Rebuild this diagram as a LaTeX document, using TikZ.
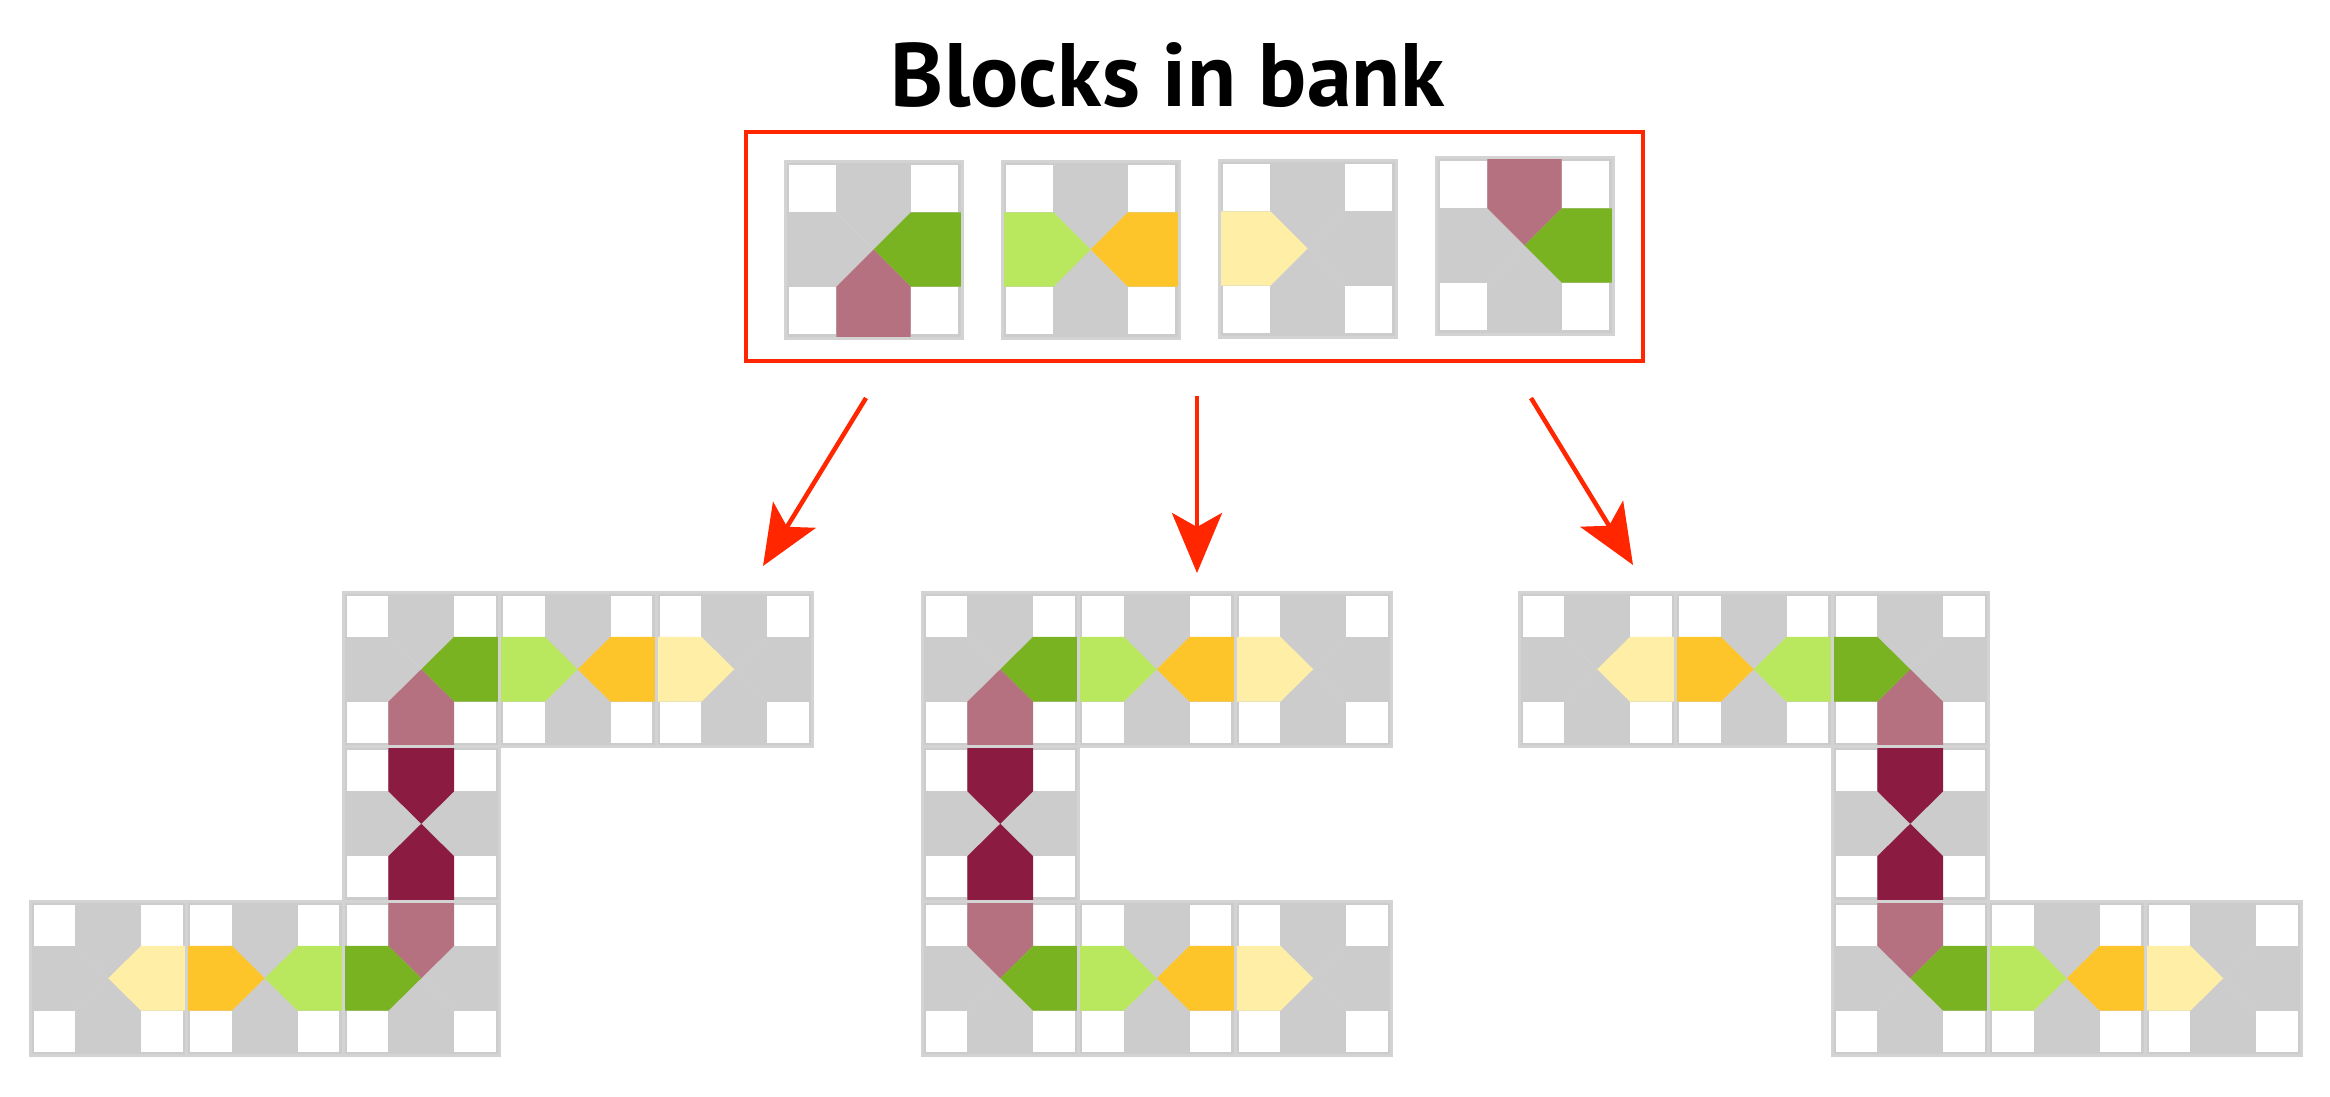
\documentclass[tikz,border=0pt]{standalone}
\usepackage{fontspec}
\setmainfont{PT Sans}
\usepackage{tikz}
\usetikzlibrary{arrows.meta}

\definecolor{gris}{HTML}{CCCCCC}
\definecolor{borde}{HTML}{D3D3D3}
\definecolor{linea}{HTML}{D0D0D0}
\definecolor{verde}{HTML}{7AB322}
\definecolor{verdeclaro}{HTML}{B9E85E}
\definecolor{naranja}{HTML}{FEC52A}
\definecolor{amarillo}{HTML}{FFEFA6}
\definecolor{malva}{HTML}{B5717F}
\definecolor{granate}{HTML}{8B1B40}
\definecolor{rojo}{HTML}{FF2600}

% bloque: x, y, ancho, alto, arriba, derecha, abajo, izquierda
\newcommand{\bloque}[8]{%
  \begin{scope}[shift={(#1,#2)}, xscale=#3, yscale=#4]
    \fill[gris] (0,0) rectangle (1,1);
    \fill[white] (0.025,0.025) rectangle (0.29,0.29);
    \fill[white] (0.71,0.025) rectangle (0.975,0.29);
    \fill[white] (0.025,0.71) rectangle (0.29,0.975);
    \fill[white] (0.71,0.71) rectangle (0.975,0.975);
    \draw[diagonal] (0.29,0.29) -- (0.71,0.71) (0.29,0.71) -- (0.71,0.29);
    \path[fill=#5] (0.5,0.5) -- (0.29,0.29) -- (0.29,0) -- (0.71,0) -- (0.71,0.29) -- cycle;
    \path[fill=#6] (0.5,0.5) -- (0.71,0.29) -- (1,0.29) -- (1,0.71) -- (0.71,0.71) -- cycle;
    \path[fill=#7] (0.5,0.5) -- (0.71,0.71) -- (0.71,1) -- (0.29,1) -- (0.29,0.71) -- cycle;
    \path[fill=#8] (0.5,0.5) -- (0.29,0.71) -- (0,0.71) -- (0,0.29) -- (0.29,0.29) -- cycle;
    \draw[marco] (0,0) rectangle (1,1);
  \end{scope}}

\begin{document}
\begin{tikzpicture}[x=1pt, y=-1pt,
    diagonal/.style={draw=linea, line width=0.6pt},
    marco/.style={draw=borde, line width=3pt},
    flecha/.style={draw=rojo, line width=4.5pt, -{Stealth[length=60pt, width=50pt, inset=14pt]}}]
  \useasboundingbox (0,0) rectangle (2330,1096);

  % Titulo y banco
  \node[anchor=base, inner sep=0pt, font=\bfseries\fontsize{90}{100}\selectfont] (titulo) at (1168,106) {Blocks in bank};
  \node[draw=rojo, line width=4.5pt, inner sep=0pt, minimum width=897pt, minimum height=229pt] (banco) at (1194.5,246.5) {};

  \bloque{785}{161}{177}{177}{none}{verde}{malva}{none}
  \bloque{1002}{161}{177}{177}{none}{naranja}{none}{verdeclaro}
  \bloque{1219}{160}{177}{177}{none}{none}{none}{amarillo}
  \bloque{1436}{157}{177}{177}{malva}{verde}{none}{none}

  % Flechas
  \coordinate (f1a) at (866,398);
  \coordinate (f1b) at (763,566);
  \coordinate (f2a) at (1197,396);
  \coordinate (f2b) at (1197,573);
  \coordinate (f3a) at (1531,398);
  \coordinate (f3b) at (1633,565);
  \draw[flecha] (f1a) -- (f1b);
  \draw[flecha] (f2a) -- (f2b);
  \draw[flecha] (f3a) -- (f3b);

  % Estructura izquierda
  \bloque{343}{592}{156.5}{154.5}{none}{verde}{malva}{none}
  \bloque{499.5}{592}{156.5}{154.5}{none}{naranja}{none}{verdeclaro}
  \bloque{656}{592}{156.5}{154.5}{none}{none}{none}{amarillo}
  \bloque{343}{746.5}{156.5}{154.5}{granate}{none}{granate}{none}
  \bloque{343}{901}{156.5}{154.5}{malva}{none}{none}{verde}
  \bloque{186.5}{901}{156.5}{154.5}{none}{verdeclaro}{none}{naranja}
  \bloque{30}{901}{156.5}{154.5}{none}{amarillo}{none}{none}

  % Estructura central
  \bloque{922}{592}{156.5}{154.5}{none}{verde}{malva}{none}
  \bloque{1078.5}{592}{156.5}{154.5}{none}{naranja}{none}{verdeclaro}
  \bloque{1235}{592}{156.5}{154.5}{none}{none}{none}{amarillo}
  \bloque{922}{746.5}{156.5}{154.5}{granate}{none}{granate}{none}
  \bloque{922}{901}{156.5}{154.5}{malva}{verde}{none}{none}
  \bloque{1078.5}{901}{156.5}{154.5}{none}{naranja}{none}{verdeclaro}
  \bloque{1235}{901}{156.5}{154.5}{none}{none}{none}{amarillo}

  % Estructura derecha
  \bloque{1519}{592}{156.5}{154.5}{none}{amarillo}{none}{none}
  \bloque{1675.5}{592}{156.5}{154.5}{none}{verdeclaro}{none}{naranja}
  \bloque{1832}{592}{156.5}{154.5}{none}{none}{malva}{verde}
  \bloque{1832}{746.5}{156.5}{154.5}{granate}{none}{granate}{none}
  \bloque{1832}{901}{156.5}{154.5}{malva}{verde}{none}{none}
  \bloque{1988.5}{901}{156.5}{154.5}{none}{naranja}{none}{verdeclaro}
  \bloque{2145}{901}{156.5}{154.5}{none}{none}{none}{amarillo}
\end{tikzpicture}
\end{document}
